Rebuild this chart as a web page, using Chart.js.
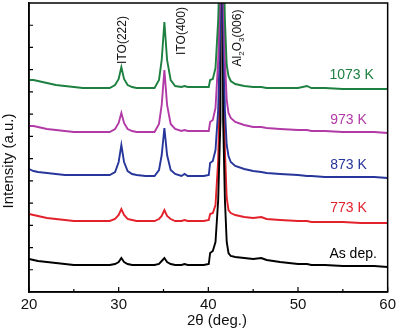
<!DOCTYPE html>
<html><head><meta charset="utf-8">
<script src="https://cdn.jsdelivr.net/npm/chart.js@4"></script>
<style>html,body{margin:0;padding:0;background:#fff;}canvas{display:block}</style>
</head><body>
<canvas id="c" width="400" height="329"></canvas>
<script>
// 2θ positions (deg.)
const twoTheta = [20,20.5,21,22,23,24,25,26,27,28, 29,29.6,30.0,30.3,30.6,31.0,31.5,32,33,34, 34.5,34.8,35.1,35.4,35.8,36.3,37.0,37.35,37.7,38.5, 39.5,40.05,40.2,40.5,40.8,41.1,41.35,41.5,41.65,41.85, 42.05,42.25,42.5,43,44,45,45.9,46.5,48,50, 51,51.5,53,55,57,58.5,60];
// Intensities (a.u., stacked offsets included)
const asDep = [33,32,31,30,29,28,27,27,27,27, 27,28,30,34,30,28,27,27,27,27, 28,31,34,30,28,27,27,28,27,27, 27,28,39,41,50,92,172,692,172,92, 50,39,36,35,34,33,34,32,30,28, 28,27,27,26,26,26,25];
const k773 = [78,77,76,74,73,72,71,71,71,71, 71,73,77,83,77,73,72,71,71,71, 73,76,82,76,73,71,71,72,71,71, 71,72,78,79,87,132,232,692,232,142, 94,82,79,77,75,74,75,73,72,71, 71,70,70,70,69,69,69];
const k873 = [123,121,120,119,118,117,117,117,117,117, 117,120,130,147,130,121,118,117,116,116, 122,137,164,137,122,118,116,118,116,116, 116,117,129,131,142,182,272,692,272,182, 147,136,130,126,123,121,120,119,118,117, 116,116,115,115,115,115,114];
const k973 = [166,166,165,163,162,161,160,160,160,160, 160,163,169,179,169,163,161,160,160,160, 168,187,222,187,168,163,161,162,161,161, 161,161,170,172,184,232,312,692,312,232, 192,179,174,170,167,165,165,164,163,162, 162,161,161,160,160,160,159];
const k1073 = [212,212,211,209,207,206,205,204,204,204, 204,207,213,225,213,207,205,204,204,204, 212,232,270,232,212,206,205,206,205,205, 205,205,212,213,224,272,352,692,352,272, 227,216,211,208,206,205,205,204,204,204, 206,204,204,203,203,203,203];

const seriesNames = ['1073 K','973 K','873 K','As dep.','773 K'];
const seriesData = [k1073, k973, k873, asDep, k773];
const seriesColors = ['#1d8040','#b23aa6','#27369a','#000000','#e3212b'];
const xTickMajor = [20,30,40,50,60];
const xTickMinor = [25,35,45,55];

// label placement (data coords)
const seriesLabels = [
  {text:'1073 K', x:53.5, y:217, color:'#1d8040'},
  {text:'973 K', x:53.6, y:172, color:'#b23aa6'},
  {text:'873 K', x:53.6, y:127, color:'#27369a'},
  {text:'773 K', x:53.6, y:84, color:'#e3212b'},
  {text:'As dep.', x:53.5, y:38, color:'#000000'}
];

const FONT = "'Liberation Sans', Arial, sans-serif";

const overlay = {
  id: 'overlay',
  afterDraw(chart) {
    const {ctx, chartArea: a, scales: {x, y}} = chart;
    ctx.save();
    ctx.strokeStyle = '#000';
    ctx.lineWidth = 1.5;
    ctx.strokeRect(a.left, a.top, a.right - a.left, a.bottom - a.top);
    // inward ticks
    ctx.lineWidth = 1.2;
    ctx.beginPath();
    xTickMajor.forEach(v => { const px = x.getPixelForValue(v); ctx.moveTo(px, a.bottom); ctx.lineTo(px, a.bottom - 5); });
    xTickMinor.forEach(v => { const px = x.getPixelForValue(v); ctx.moveTo(px, a.bottom); ctx.lineTo(px, a.bottom - 3); });
    y.ticks.forEach(t => {
      const py = y.getPixelForValue(t.value);
      if (py > a.top + 2 && py < a.bottom - 2) { ctx.moveTo(a.left, py); ctx.lineTo(a.left + 4, py); }
    });
    ctx.stroke();

    // series labels
    ctx.font = '14px ' + FONT;
    ctx.textAlign = 'left';
    ctx.textBaseline = 'middle';
    seriesLabels.forEach(l => {
      ctx.fillStyle = l.color;
      ctx.fillText(l.text, x.getPixelForValue(l.x), y.getPixelForValue(l.y));
    });

    // peak annotations (vertical)
    ctx.fillStyle = '#111';
    const vtext = (parts, cx, cy) => {
      ctx.save();
      ctx.translate(cx, cy);
      ctx.rotate(-Math.PI / 2);
      let total = 0;
      parts.forEach(p => { ctx.font = p.size + 'px ' + FONT; total += ctx.measureText(p.t).width; });
      let pos = -total / 2;
      ctx.textAlign = 'left';
      ctx.textBaseline = 'middle';
      parts.forEach(p => {
        ctx.font = p.size + 'px ' + FONT;
        ctx.fillText(p.t, pos, p.dy || 0);
        pos += ctx.measureText(p.t).width;
      });
      ctx.restore();
    };
    vtext([{t:'ITO(222)', size:12}], x.getPixelForValue(30.44), y.getPixelForValue(252));
    vtext([{t:'ITO(400)', size:12}], x.getPixelForValue(37.0), y.getPixelForValue(261));
    vtext([{t:'Al', size:12},{t:'2', size:8, dy:4},{t:'O', size:12},{t:'3', size:8, dy:4},{t:'(006)', size:12}],
          x.getPixelForValue(43.33), y.getPixelForValue(254));

    // axis titles
    ctx.fillStyle = '#111';
    ctx.font = '15px ' + FONT;
    ctx.textAlign = 'center';
    ctx.textBaseline = 'middle';
    ctx.save();
    ctx.translate(9, 161);
    ctx.rotate(-Math.PI / 2);
    ctx.fillText('Intensity (a.u.)', 0, 0);
    ctx.restore();
    ctx.fillText('2\u03B8 (deg.)', 217, 321);
    ctx.restore();
  }
};

new Chart(document.getElementById('c'), {
  type: 'line',
  data: {
    datasets: seriesNames.map((n, i) => ({
      label: n,
      data: twoTheta.map((t, j) => ({x: t, y: seriesData[i][j]})),
      borderColor: seriesColors[i],
      borderWidth: 1.9,
      pointRadius: 0,
      tension: 0,
      fill: false
    }))
  },
  options: {
    responsive: false,
    animation: false,
    devicePixelRatio: 1,
    layout: {padding: {top: 3, right: 10, left: 0, bottom: 0}},
    plugins: {legend: {display: false}, tooltip: {enabled: false}},
    scales: {
      x: {
        type: 'linear', min: 20, max: 60,
        afterFit(s) { s.height = 37; },
        grid: {display: false, drawTicks: false},
        border: {display: true, color: '#000', width: 1.5},
        ticks: {stepSize: 10, padding: 4, color: '#111', font: {family: FONT, size: 15}}
      },
      y: {
        min: 0, max: 289,
        afterFit(s) { s.width = 29; },
        grid: {display: false, drawTicks: false},
        border: {display: true, color: '#000', width: 1.5},
        ticks: {display: false, stepSize: 289 / 13}
      }
    }
  },
  plugins: [overlay]
});
</script>
</body></html>
